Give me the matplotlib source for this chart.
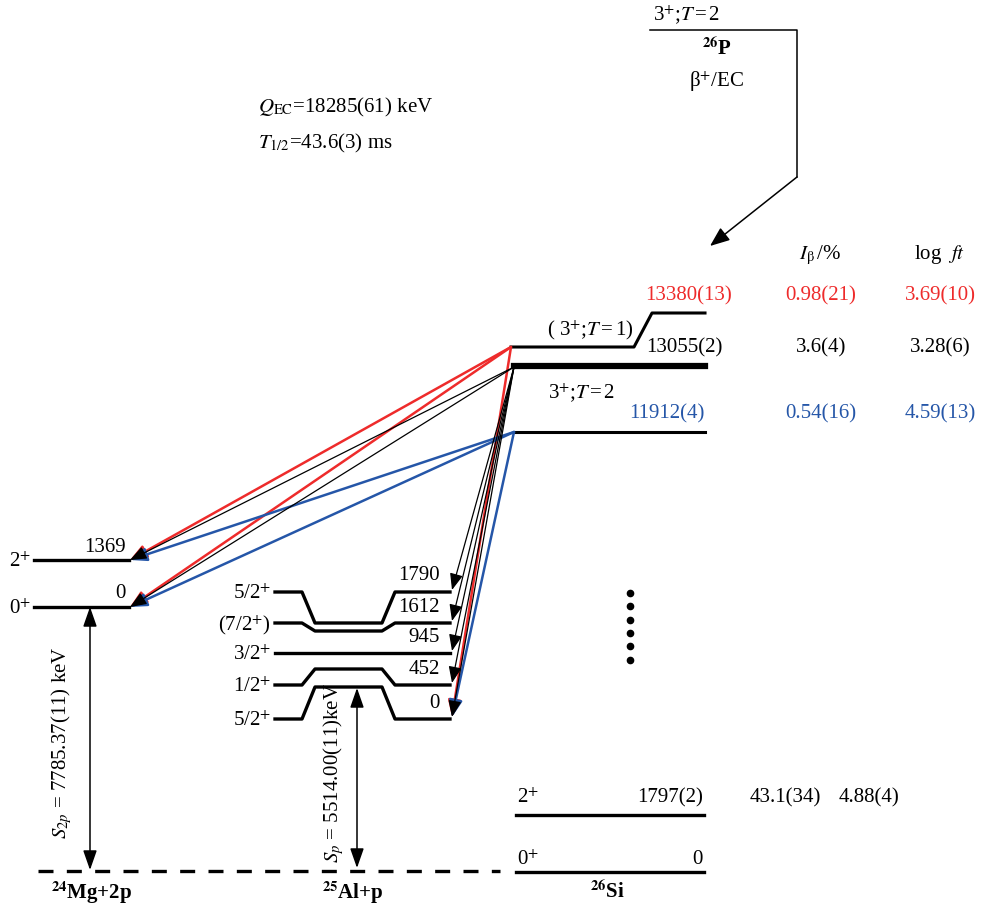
import matplotlib.pyplot as plt

plt.rcParams["font.family"] = ["Liberation Serif", "DejaVu Serif"]
plt.rcParams["mathtext.fontset"] = "stix"

RED = "#ee2b2b"
BLUE = "#2556a8"

# ---------------- data ----------------
si_energy = ["13380(13)", "13055(2)", "11912(4)", "1797(2)", "0"]
si_ib = ["0.98(21)", "3.6(4)", "0.54(16)", "43.1(34)", ""]
si_logft = ["3.69(10)", "3.28(6)", "4.59(13)", "4.88(4)", ""]
si_color = [RED, "black", BLUE, "black", "black"]

al_energy = ["1790", "1612", "945", "452", "0"]
al_spin = ["5/2$^{+}$", "(7/2$^{+}$)", "3/2$^{+}$", "1/2$^{+}$", "5/2$^{+}$"]

mg_energy = ["1369", "0"]
mg_spin = ["2$^{+}$", "0$^{+}$"]

# proton transitions: (26Si level index, daughter, daughter level index)
transitions = [
    (0, "mg", 0), (0, "mg", 1), (0, "al", 4),
    (2, "mg", 0), (2, "mg", 1), (2, "al", 4),
    (1, "mg", 0), (1, "mg", 1),
    (1, "al", 0), (1, "al", 1), (1, "al", 2), (1, "al", 3), (1, "al", 4),
]

# ---------------- layout (pixel coordinates) ----------------
fig = plt.figure(figsize=(9.81, 9.06), dpi=100)
ax = fig.add_axes([0, 0, 1, 1])
ax.set_xlim(0, 981)
ax.set_ylim(906, 0)
ax.axis("off")

FS = 15
HEAD = "-|>,head_length=1.0,head_width=0.4"

# 26P parent
ax.plot([650, 797, 797], [30, 30, 177], color="black", lw=1.1)
ax.annotate("", xy=(710, 246), xytext=(797, 177),
            arrowprops=dict(arrowstyle=HEAD, color="black", lw=1.1,
                            shrinkA=0, shrinkB=0, mutation_scale=12))
ax.text(687, 15, r"3$^{+}$;$T\,$=$\,$2", fontsize=FS, ha="center", va="center")
ax.text(717, 50, r"$^{\mathbf{26}}$P", fontsize=FS, fontweight="bold",
        ha="center", va="center")
ax.text(717, 82, "β$^{+}$/EC", fontsize=FS, ha="center", va="center")

ax.text(258, 107, r"$Q_{\rm EC}$=18285(61) keV", fontsize=FS, ha="left", va="center")
ax.text(258, 143, r"$T_{\rm 1/2}$=43.6(3) ms", fontsize=FS, ha="left", va="center")

ax.text(820, 255, r"$I_{\rm \beta}\,$/%", fontsize=FS, ha="center", va="center")
ax.text(940, 255, r"log  $ft$", fontsize=FS, ha="center", va="center")

# 26Si levels
si_start = [(511, 347), (514, 367), (514, 432)]
ax.plot([511, 634, 652, 705], [347, 347, 313, 313], color="black", lw=2.2)
ax.plot([514, 705], [366, 366], color="black", lw=4.5)
ax.plot([514, 705], [432, 432], color="black", lw=2.2)
ax.plot([516, 704], [815, 815], color="black", lw=2.4)
ax.plot([516, 704], [872, 872], color="black", lw=2.4)

lab_xy = [(689, 296), (684, 348), (667, 414), (670, 798)]
ib_x = [821, 821, 821, 785]
ft_x = [940, 940, 940, 869]
for i in range(4):
    ax.text(lab_xy[i][0], lab_xy[i][1], si_energy[i], fontsize=FS,
            color=si_color[i], ha="center", va="center")
    ax.text(ib_x[i], lab_xy[i][1], si_ib[i], fontsize=FS,
            color=si_color[i], ha="center", va="center")
    ax.text(ft_x[i], lab_xy[i][1], si_logft[i], fontsize=FS,
            color=si_color[i], ha="center", va="center")
ax.text(703, 860, si_energy[4], fontsize=FS, ha="right", va="center")
ax.text(517, 798, "2$^{+}$", fontsize=FS, ha="left", va="center")
ax.text(517, 860, "0$^{+}$", fontsize=FS, ha="left", va="center")
ax.text(590, 330, r"( 3$^{+}$;$T\,$=$\,$1)", fontsize=FS, ha="center", va="center")
ax.text(582, 393, r"3$^{+}$;$T\,$=$\,$2", fontsize=FS, ha="center", va="center")
ax.text(607, 893, r"$^{\mathbf{26}}$Si", fontsize=FS, fontweight="bold",
        ha="center", va="center")

# dots for higher states
ax.plot([630] * 6, [593, 606, 620, 633, 646, 660], "o", color="black", ms=4.5)

# 24Mg + 2p
mg_y = [560, 607]
for i in range(2):
    ax.plot([34, 129], [mg_y[i], mg_y[i]], color="black", lw=2.4)
    ax.text(20, mg_y[i] + 2, mg_spin[i], fontsize=FS, ha="center", va="center")
    ax.text(126, mg_y[i] - 13, mg_energy[i], fontsize=FS, ha="right", va="center")
ax.annotate("", xy=(90, 870), xytext=(90, 607),
            arrowprops=dict(arrowstyle="<|-|>,head_length=1.0,head_width=0.35",
                            color="black", lw=1.1, shrinkA=0, shrinkB=0,
                            mutation_scale=12))
ax.text(62, 743, r"$S_{2p}$ = 7785.37(11) keV", fontsize=FS, rotation=90,
        ha="center", va="center")
ax.text(92, 893, r"$^{\mathbf{24}}$Mg+2p", fontsize=FS, fontweight="bold",
        ha="center", va="center")

# 25Al + p
al_y = [592, 623, 653, 685, 719]
al_mid = [623, 631, 653, 669, 687]
for i in range(5):
    ax.plot([275, 302, 315, 382, 395, 450],
            [al_y[i], al_y[i], al_mid[i], al_mid[i], al_y[i], al_y[i]],
            color="black", lw=2.4)
    ax.text(271, al_y[i] + 2, al_spin[i], fontsize=FS, ha="right", va="center")
    ax.text(440, al_y[i] - 16, al_energy[i], fontsize=FS, ha="right", va="center")
ax.annotate("", xy=(357, 868), xytext=(357, 688),
            arrowprops=dict(arrowstyle="<|-|>,head_length=1.0,head_width=0.35",
                            color="black", lw=1.1, shrinkA=0, shrinkB=0,
                            mutation_scale=12))
ax.text(334, 773, r"$S_{p}$ = 5514.00(11)keV", fontsize=FS, rotation=90,
        ha="center", va="center")
ax.text(353, 893, r"$^{\mathbf{25}}$Al+p", fontsize=FS, fontweight="bold",
        ha="center", va="center")

# separation threshold
ax.plot([38, 500], [871, 871], color="black", lw=2.4, dashes=(4.5, 4))

# proton transitions
for src, dest, j in transitions:
    x0, y0 = si_start[src]
    if dest == "mg":
        x1, y1 = 130, mg_y[j]
    else:
        x1, y1 = 452, al_y[j] - 2
    col = si_color[src]
    lw = 0.9 if col == "black" else 1.8
    ax.annotate("", xy=(x1, y1), xytext=(x0, y0),
                arrowprops=dict(arrowstyle=HEAD, color=col, lw=lw,
                                shrinkA=0, shrinkB=0, mutation_scale=10))

plt.savefig("out.png", dpi=100)
plt.close()
